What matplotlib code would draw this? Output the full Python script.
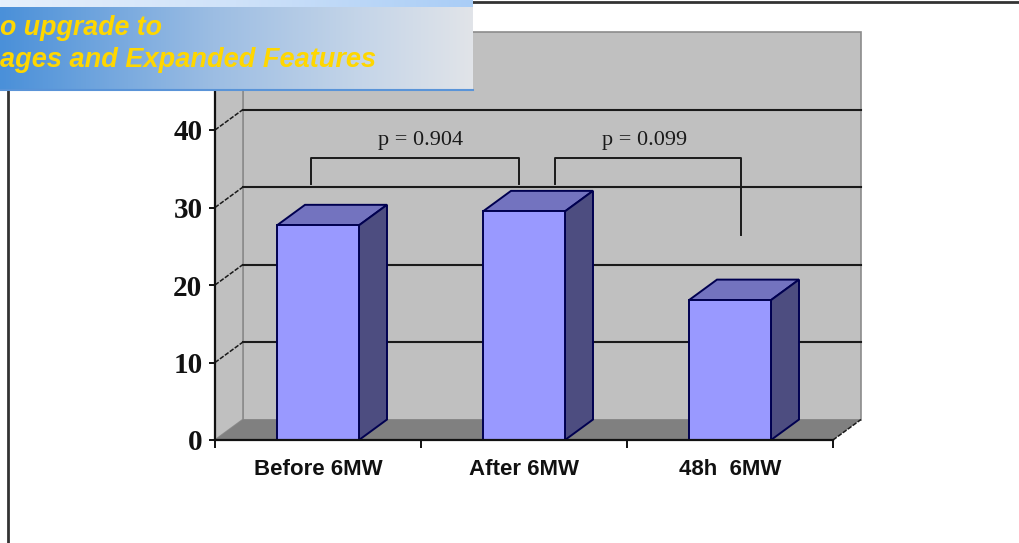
import numpy as np
import matplotlib
matplotlib.use("Agg")
import matplotlib.pyplot as plt
from matplotlib.colors import LinearSegmentedColormap
from matplotlib.patches import Polygon

# data
categories = ["Before 6MW", "After 6MW", "48h  6MW"]
values = [27.7, 29.5, 18.05]
y_ticks = [0, 10, 20, 30, 40]
y_max = 50

# brackets: x left, x right, top, left end, right end
brackets = [(-0.034, 0.976, 36.35, 33.0, 33.0), (1.15, 2.053, 36.35, 33.0, 26.5)]
p_labels = ["p = 0.904", "p = 0.099"]
p_x = [0.5, 1.587]
p_y = 38.7

W, H = 1020, 543
LEFT, RIGHT, BOTTOM = 215, 833, 440
PX_PER_UNIT = 7.75
BAR_WIDTH = 82 / 206
DX = 28 / 206   # depth of the 3D box, in data units
DY = 20.5 / PX_PER_UNIT

fig = plt.figure(figsize=(W / 100, H / 100), dpi=100, facecolor="white")
top = BOTTOM - y_max * PX_PER_UNIT
ax = fig.add_axes([LEFT / W, 1 - BOTTOM / H, (RIGHT - LEFT) / W, (BOTTOM - top) / H])
ax.set_xlim(-0.5, 2.5)
ax.set_ylim(0, y_max)
ax.patch.set_visible(False)


def poly(points, color, edge="none", lw=0.0, z=1):
    ax.add_patch(Polygon(points, closed=True, facecolor=color, edgecolor=edge,
                         linewidth=lw, clip_on=False, zorder=z))


x0, x1 = -0.5, 2.5
# walls and floor
poly([(x0 + DX, DY), (x1 + DX, DY), (x1 + DX, y_max + DY), (x0 + DX, y_max + DY)],
     "#c0c0c0", "#8c8c8c", 1.2)
poly([(x0, 0), (x0 + DX, DY), (x0 + DX, y_max + DY), (x0, y_max)], "#c0c0c0", "#8c8c8c", 1.2)
poly([(x0, 0), (x1, 0), (x1 + DX, DY), (x0 + DX, DY)], "#808080")

# gridlines on the back wall and the left wall
for v in y_ticks[1:]:
    ax.plot([x0 + DX, x1 + DX], [v + DY, v + DY], color="#1a1a1a", lw=1.5, clip_on=False, zorder=2)
    ax.plot([x0, x0 + DX], [v, v + DY], color="#1a1a1a", lw=1.1, ls=(0, (3, 1)), clip_on=False, zorder=2)
ax.plot([x1, x1 + DX], [0, DY], color="#1a1a1a", lw=1.1, ls=(0, (3, 1)), clip_on=False, zorder=2)

# bars
xs = np.arange(len(categories))
ax.bar(xs, values, width=BAR_WIDTH, color="#9999ff", edgecolor="#000050", linewidth=1.4, zorder=4)
for x, v in zip(xs, values):
    a, b = x - BAR_WIDTH / 2, x + BAR_WIDTH / 2
    poly([(a, v), (b, v), (b + DX, v + DY), (a + DX, v + DY)], "#7373bf", "#000050", 1.4, 3)
    poly([(b, 0), (b + DX, DY), (b + DX, v + DY), (b, v)], "#4d4d80", "#000050", 1.4, 3)

# axis lines and labels
for name in ("top", "right"):
    ax.spines[name].set_visible(False)
for name in ("left", "bottom"):
    ax.spines[name].set_linewidth(1.6)
    ax.spines[name].set_color("#111111")
    ax.spines[name].set_zorder(5)
ax.set_xticks([-0.5, 0.5, 1.5, 2.5])
ax.set_xticklabels([])
ax.set_xticks(xs, categories, minor=True)
ax.tick_params(axis="x", which="major", length=6, width=1.4, color="#111111")
ax.tick_params(axis="x", which="minor", length=0, pad=14, labelsize=16)
ax.set_yticks(y_ticks)
ax.tick_params(axis="y", length=4, width=1.4, color="#111111", pad=5, labelsize=21)
for t in ax.get_xticklabels(minor=True):
    t.set_family("Liberation Sans")
    t.set_fontweight("bold")
    t.set_color("#111111")
for t in ax.get_yticklabels():
    t.set_family("Liberation Serif")
    t.set_fontweight("bold")
    t.set_color("#111111")

# p-value brackets
for (a, b, y, ya, yb) in brackets:
    ax.plot([a, a, b, b], [ya, y, y, yb], color="#1a1a1a", lw=1.4, zorder=6, clip_on=False)
for x, s in zip(p_x, p_labels):
    ax.text(x, p_y, s, ha="center", va="center", fontsize=16, color="#1a1a1a",
            family="Liberation Serif", zorder=6)

# page frame and the banner, in pixels
over = fig.add_axes([0, 0, 1, 1])
over.set_xlim(0, W)
over.set_ylim(H, 0)
over.axis("off")
over.plot([8, 8], [90, H], color="#333333", lw=2)
over.plot([473, W], [2, 2], color="#333333", lw=2)

main_cmap = LinearSegmentedColormap.from_list(
    "m", [(0, "#4a90d9"), (0.45, "#9cbde3"), (0.75, "#c3d4e8"), (1, "#e1e4e9")])
strip_cmap = LinearSegmentedColormap.from_list("s", ["#e6f0fc", "#cfe2f9", "#a9cdf6"])
grad = np.linspace(0, 1, 256).reshape(1, -1)
over.imshow(grad, cmap=strip_cmap, extent=(0, 473, 7, 0), aspect="auto", zorder=3)
over.imshow(grad, cmap=main_cmap, extent=(0, 473, 90, 7), aspect="auto", zorder=3)
over.plot([0, 473], [89.5, 89.5], color="#5a94d8", lw=1.5, zorder=4)
over.set_xlim(0, W)
over.set_ylim(H, 0)
over.text(0, 28, "o upgrade to", color="#ffd700", fontsize=19.3, style="italic", weight="bold",
          family="Liberation Sans", va="center", ha="left", zorder=5)
over.text(0, 60, "ages and Expanded Features", color="#ffd700", fontsize=19.5, style="italic",
          weight="bold", family="Liberation Sans", va="center", ha="left", zorder=5)

fig.savefig("out.png", dpi=100)
